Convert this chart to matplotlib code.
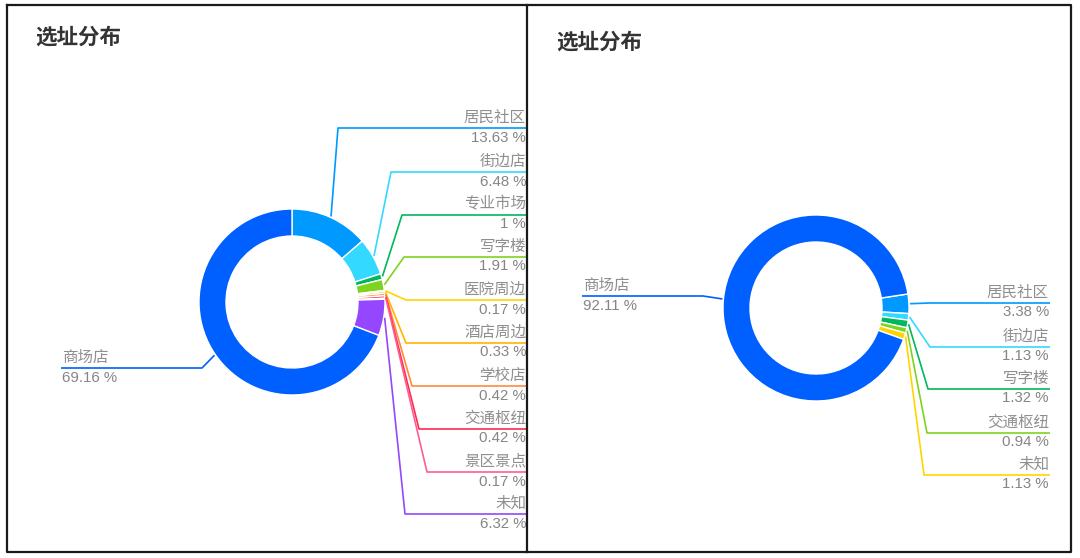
import matplotlib
matplotlib.use('Agg')
import matplotlib.pyplot as plt
import numpy as np

plt.rcParams['font.family'] = ['Noto Sans CJK SC', 'DejaVu Sans']

# ---- data (clockwise order from the first slice) ----
title = '选址分布'

left_names = ['居民社区', '街边店', '专业市场', '写字楼', '医院周边', '酒店周边',
              '学校店', '交通枢纽', '景区景点', '未知', '商场店']
left_values = [13.63, 6.48, 1, 1.91, 0.17, 0.33, 0.42, 0.42, 0.17, 6.32, 69.16]
left_colors = ['#0099ff', '#33d9ff', '#00b85c', '#7ed321', '#ffd500', '#ffb400',
               '#ff8a3d', '#ff2a50', '#ff5c93', '#9447ff', '#0060ff']

right_names = ['居民社区', '街边店', '写字楼', '交通枢纽', '未知', '商场店']
right_values = [3.38, 1.13, 1.32, 0.94, 1.13, 92.11]
right_colors = ['#0099ff', '#33d9ff', '#00b85c', '#7ed321', '#ffd500', '#0060ff']

# ---- layout in image pixels (y measured from the top) ----
H = 558
def Y(py):
    return H - py

left_layout = dict(center=(292, 302), start=90, title_pos=(35, 37),
                   label_y=[128, 172, 215, 257, 300, 343, 386, 429, 472, 514, 368],
                   elbow_x=[338, 391, 402, 404, 406, 406, 412, 419, 427, 405, 202],
                   end_right=527, end_left=61)
right_layout = dict(center=(816, 308), start=8.7, title_pos=(556, 42),
                    label_y=[303, 347, 389, 433, 475, 296],
                    elbow_x=[930, 930, 928, 927, 924, 703],
                    end_right=1050, end_left=582)
R, W = 93, 27

fig = plt.figure(figsize=(10.8, 5.58), dpi=100)
ax = fig.add_axes([0, 0, 1, 1])


def draw_donut(names, values, colors, lay):
    cx, cy = lay['center']
    wedges, _ = ax.pie(values, colors=colors, radius=R, center=(cx, Y(cy)),
                       startangle=lay['start'], counterclock=False,
                       wedgeprops=dict(width=W, edgecolor='white', linewidth=1))
    for w, name, v, c, ly, ex in zip(wedges, names, values, colors,
                                     lay['label_y'], lay['elbow_x']):
        mid = np.deg2rad((w.theta1 + w.theta2) / 2)
        sx = cx + (R + 1) * np.cos(mid)
        sy = Y(cy) + (R + 1) * np.sin(mid)
        right = ex > cx
        end = lay['end_right'] if right else lay['end_left']
        ax.plot([sx, ex, end], [sy, Y(ly), Y(ly)], color=c, lw=1.2,
                solid_capstyle='butt', zorder=3)
        tx = end - 1 if right else end + 1
        ha = 'right' if right else 'left'
        ax.text(tx, Y(ly) + 11, name, ha=ha, va='center', fontsize=11.2,
                color='#8f8f8f')
        ax.text(tx, Y(ly) - 9.5, f'{v:g} %', ha=ha, va='center', fontsize=10.8,
                color='#858585', family=['Liberation Sans', 'DejaVu Sans'])
    tx, ty = lay['title_pos']
    ax.text(tx, Y(ty), title, ha='left', va='center', fontsize=15.5,
            fontweight='bold', color='#333333')


draw_donut(left_names, left_values, left_colors, left_layout)
draw_donut(right_names, right_values, right_colors, right_layout)

# panel frames
frame_kw = dict(color='#1a1a1a', lw=1.6, solid_capstyle='projecting', zorder=5)
ax.plot([7, 1071, 1071, 7, 7], [Y(5), Y(5), Y(552), Y(552), Y(5)], **frame_kw)
ax.plot([527, 527], [Y(5), Y(552)], **frame_kw)

ax.set_xlim(0, 1080)
ax.set_ylim(0, H)
ax.set_aspect('auto')
ax.axis('off')

fig.savefig('out.png', dpi=100, facecolor='white')
